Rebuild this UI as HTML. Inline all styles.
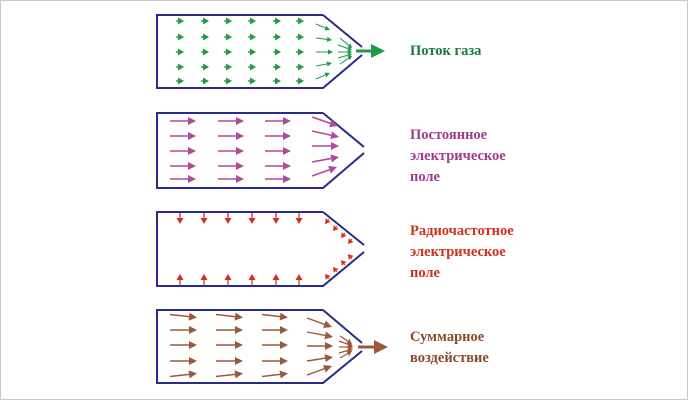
<!DOCTYPE html>
<html><head><meta charset="utf-8"><style>
html,body{margin:0;padding:0;background:#fff}
#w{position:relative;width:686px;height:398px;border:1px solid #c8c8c8;overflow:hidden}
svg{position:absolute;left:-1px;top:-1px}
.t{position:absolute;font-family:"Liberation Serif",serif;font-weight:bold;font-size:14.5px;line-height:21px}
</style></head><body><div id="w">
<svg id="s" width="688" height="400" viewBox="0 0 688 400">
<g fill="none" stroke="#2a2a8a" stroke-width="2">
<path d="M323,15 H157 V88 H323 L362,55 M362,47 L323,15"/>
<path d="M323,113 H157 V188 H323 L364,153 M364,147 L323,113"/>
<path d="M323,212 H157 V286 H323 L364,252 M364,245 L323,212"/>
<path d="M323,310 H157 V383 H323 L362,351 M362,343 L323,310"/>
</g>
<g id="g"></g>
</svg>
<div class="t" style="left:409px;top:40px;color:#1a7a3a">Поток газа</div>
<div class="t" style="left:409px;top:124px;color:#a03a8a">Постоянное<br>электрическое<br>поле</div>
<div class="t" style="left:409px;top:220px;color:#d0301c">Радиочастотное<br>электрическое<br>поле</div>
<div class="t" style="left:409px;top:326px;color:#8a4a2a">Суммарное<br>воздействие</div>
</div>
<script>
var g=document.getElementById('g'),h='';
function ar(x1,y1,x2,y2,c,w,hl,hw){var dx=x2-x1,dy=y2-y1,L=Math.hypot(dx,dy),ux=dx/L,uy=dy/L;
var bx=x2-ux*hl,by=y2-uy*hl;
h+='<line x1="'+x1+'" y1="'+y1+'" x2="'+bx+'" y2="'+by+'" stroke="'+c+'" stroke-width="'+w+'"/>';
h+='<polygon fill="'+c+'" points="'+x2+','+y2+' '+(bx-uy*hw)+','+(by+ux*hw)+' '+(bx+uy*hw)+','+(by-ux*hw)+'"/>';}
var G='#1f9a4a',M='#b04a9a',R='#e02a1a',B='#9a5a3a';
var gx=[180,205,228,252,277,300],gy=[21,37,52,67,81];
gy.forEach(function(y){gx.forEach(function(x){ar(x-4,y,x+4,y,G,1.4,6,3.5)});});
[[316,24,330,30],[316,38,332,40],[316,52,333,52],[316,66,332,63],[316,79,330,73]].forEach(function(a){ar(a[0],a[1],a[2],a[3],G,1,5,2.5)});
[[340,38,352,48],[338,45,352,50],[338,52,352,52],[338,58,352,54],[340,64,352,56]].forEach(function(a){ar(a[0],a[1],a[2],a[3],G,1,4,2.5)});
ar(356,51,385,51,G,3,14,7);
var my=[121,136,151,166,179];
my.forEach(function(y){[[170,196],[218,244],[265,291]].forEach(function(p){ar(p[0],y,p[1],y,M,1.6,8,4)});});
[[312,117,338,126],[312,131,339,137],[312,146,339,146],[312,162,339,157],[312,176,337,167]].forEach(function(a){ar(a[0],a[1],a[2],a[3],M,1.6,8,4)});
[180,204,228,252,276,299].forEach(function(x){ar(x,213,x,224,R,1.2,6,3.5);ar(x,285,x,274,R,1.2,6,3.5)});
[[329,219],[337,226],[345,233],[352,239]].forEach(function(p){ar(p[0],p[1],p[0]-4,p[1]+5,R,1,5,3)});
[[329,279],[337,272],[345,265],[352,259]].forEach(function(p){ar(p[0],p[1],p[0]-4,p[1]-5,R,1,5,3)});
var by2=[316,330,345,361,375];
[[170,197],[216,243],[262,288]].forEach(function(p,i){by2.forEach(function(y,j){var dy=(j==0?3:(j==4?-3:0));ar(p[0],y-dy/2,p[1],y+dy/2,B,1.5,8,4)});});
[[307,318,332,327],[307,332,333,337],[307,346,333,346],[307,361,333,357],[307,375,332,366]].forEach(function(a){ar(a[0],a[1],a[2],a[3],B,1.4,8,4)});
[[340,336,352,344],[339,341,353,346],[339,347,353,347],[339,353,353,349],[340,358,352,351]].forEach(function(a){ar(a[0],a[1],a[2],a[3],B,1.2,5,3)});
ar(358,347,388,347,B,3,14,7);
g.innerHTML=h;
</script>
</body></html>
